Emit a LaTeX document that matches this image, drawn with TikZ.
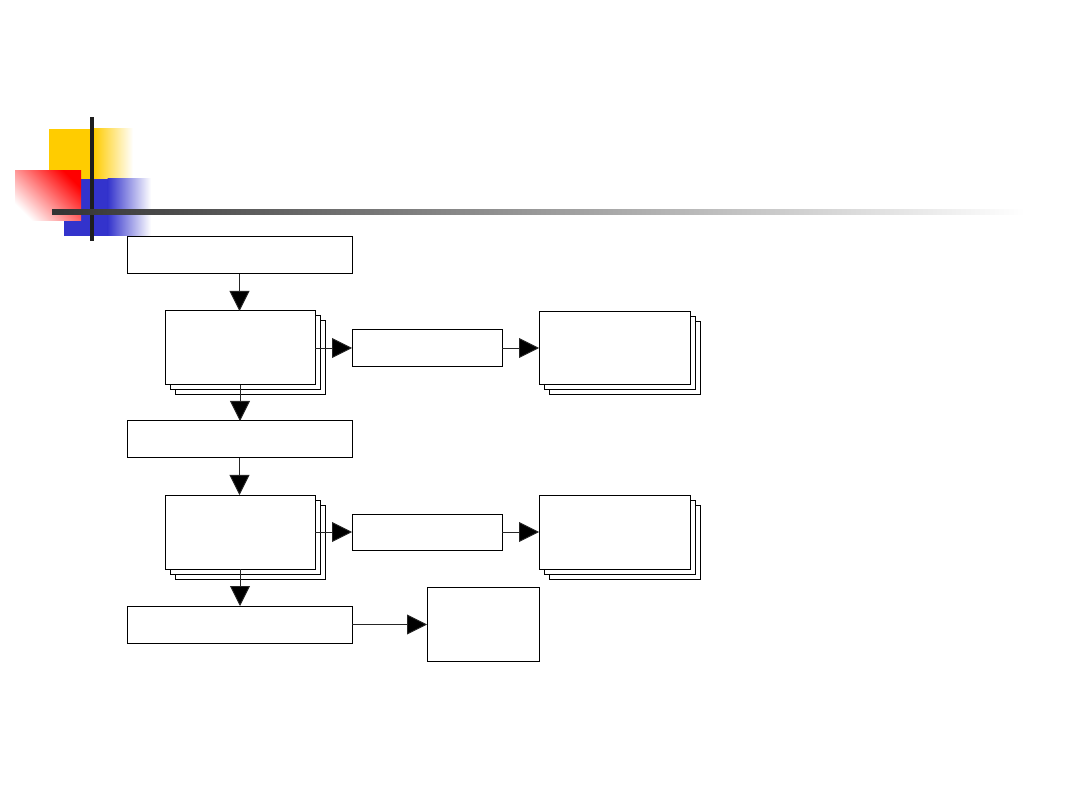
\documentclass[tikz,border=0pt]{standalone}
\usetikzlibrary{arrows.meta,shadows}
\definecolor{goldc}{RGB}{255,204,0}
\definecolor{bluec}{RGB}{51,51,204}
\definecolor{redc}{RGB}{255,0,0}
\definecolor{barc}{RGB}{30,30,30}
\begin{document}
\begin{tikzpicture}[x=1pt,y=-1pt,
  box/.style={draw=black,line width=1pt,fill=white,anchor=north west,inner sep=0pt,outer sep=0pt},
  stackbox/.style={box,double copy shadow={shadow xshift=5pt,shadow yshift=-5pt,draw=black,fill=white,line width=1pt}},
  conn/.style={line width=0.9pt,draw=black!85,-{Triangle[length=20pt,width=20pt,fill=black]}}]
\useasboundingbox (0,0) rectangle (1080,810);
% decoration
\fill[goldc] (49,129) rectangle (94,179);
\shade[left color=goldc,right color=white] (93.5,129) rectangle (133,179);
\fill[bluec] (64,179) rectangle (108,236);
\shade[left color=bluec,right color=white] (107.5,179) rectangle (151,236);
\shade[shading=axis,top color=redc,bottom color=white,shading angle=-45] (15,171) rectangle (81,221);
\fill[barc] (90,117) rectangle (94,241);
\shade[left color=black!80,right color=white] (52,210) rectangle (1025,215);
% boxes
\node[box,minimum width=225pt,minimum height=37pt] (A) at (127,237) {};
\node[stackbox,minimum width=150pt,minimum height=74pt] (B) at (165,311) {};
\node[box,minimum width=150pt,minimum height=37pt] (C) at (352,329.5) {};
\node[stackbox,minimum width=151pt,minimum height=73pt] (D) at (539,312) {};
\node[box,minimum width=225pt,minimum height=37pt] (E) at (127,421) {};
\node[stackbox,minimum width=150pt,minimum height=74pt] (F) at (165,495) {};
\node[box,minimum width=150pt,minimum height=36pt] (G) at (352,514) {};
\node[stackbox,minimum width=151pt,minimum height=74pt] (H) at (539,495) {};
\node[box,minimum width=225pt,minimum height=37pt] (I) at (127,606) {};
\node[box,minimum width=112pt,minimum height=74pt] (J) at (427,587) {};
% connectors
\draw[conn] (A.south) -- (A.south |- B.north);
\draw[conn] (B.south) -- (B.south |- E.north);
\draw[conn] (B.east) -- (B.east -| C.west);
\draw[conn] (C.east) -- (C.east -| D.west);
\draw[conn] (E.south) -- (E.south |- F.north);
\draw[conn] (F.south) -- (F.south |- I.north);
\draw[conn] (F.east) -- (F.east -| G.west);
\draw[conn] (G.east) -- (G.east -| H.west);
\draw[conn] (I.east) -- (I.east -| J.west);
\end{tikzpicture}
\end{document}
